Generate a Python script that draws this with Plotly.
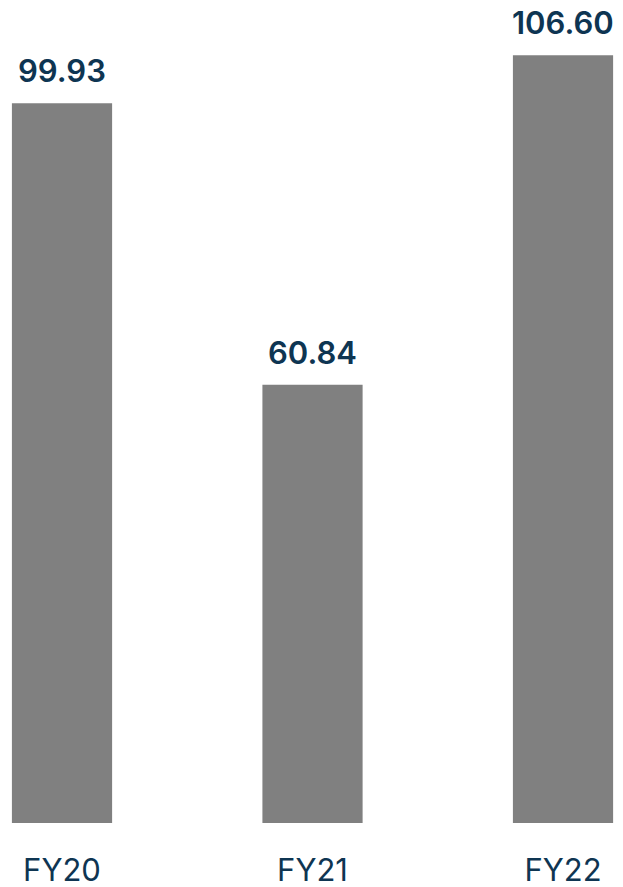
import plotly.graph_objects as go

categories = ["FY20", "FY21", "FY22"]
values = [99.93, 60.84, 106.60]
value_labels = ["99.93", "60.84", "106.60"]

navy = "#0e3552"
fig = go.Figure(go.Bar(
    x=categories, y=values, width=0.4,
    marker=dict(color="#808080", line=dict(width=0)),
    hoverinfo="skip",
))
for c, v, t in zip(categories, values, value_labels):
    fig.add_annotation(x=c, y=v, text=t, showarrow=False, yanchor="bottom",
                       yshift=12, font=dict(family="Inter", size=31, color=navy, weight=600))

fig.update_layout(
    width=615, height=879,
    margin=dict(l=0, r=0, t=0, b=64),
    plot_bgcolor="white", paper_bgcolor="white",
    showlegend=False,
    xaxis=dict(range=[-0.2156, 2.2395], showgrid=False, showline=False, zeroline=False,
               ticks="", tickfont=dict(family="Inter", size=31, color=navy),
               ticklabelstandoff=26),
    yaxis=dict(range=[0, 113.16], visible=False),
)
fig.write_html("out.html")
